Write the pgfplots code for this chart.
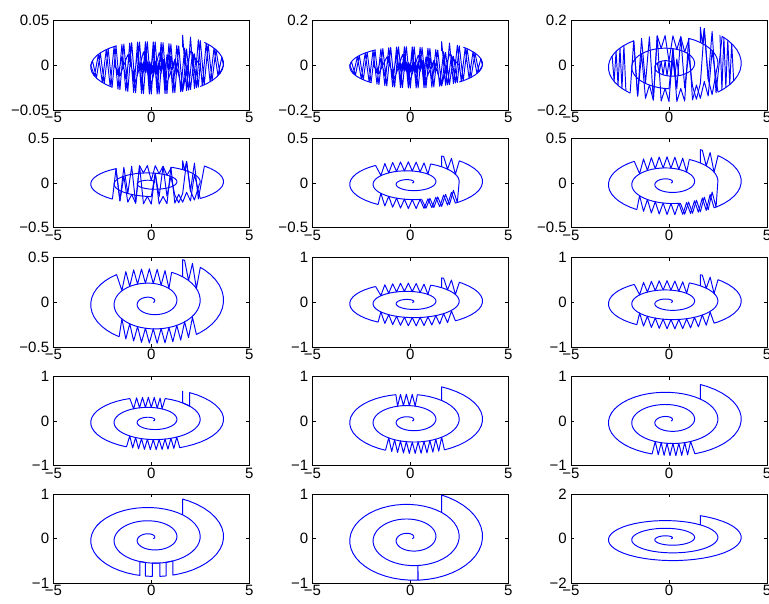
\documentclass[border=0pt]{standalone}
\usepackage{fontspec}
\setmainfont{Liberation Sans}
\usepackage{pgfplots}
\usepackage{pgfplotstable}
\pgfplotsset{compat=1.18}
\pgfplotsset{
 sub/.style={scale only axis, width=196pt, height=89.3pt, anchor=north west,
  xmin=-5, xmax=5, xtick={-5,0,5}, xticklabels={−5,0,5},
  tick align=inside, major tick length=3.3pt,
  every tick/.style={black, line width=0.8pt},
  axis line style={line width=0.8pt, black},
  tick label style={font=\fontsize{15}{17}\selectfont},
  xticklabel style={inner sep=2pt}, yticklabel style={inner sep=4pt},
  scaled y ticks=false, clip=true},
 ln/.style={blue, line width=0.95pt, mark=none, line join=round},
 idx/.style 2 args={x filter/.append code={\ifnum\coordindex<#1\relax\def\pgfmathresult{}\fi\ifnum\coordindex>#2\relax\def\pgfmathresult{}\fi}},
 ya/.style={ymin=-0.05,ymax=0.05,ytick={-0.05,0,0.05},yticklabels={−0.05,0,0.05}},
 yb/.style={ymin=-0.2,ymax=0.2,ytick={-0.2,0,0.2},yticklabels={−0.2,0,0.2}},
 yc/.style={ymin=-0.5,ymax=0.5,ytick={-0.5,0,0.5},yticklabels={−0.5,0,0.5}},
 yd/.style={ymin=-1,ymax=1,ytick={-1,0,1},yticklabels={−1,0,1}},
 ye/.style={ymin=-2,ymax=2,ytick={-2,0,2},yticklabels={−2,0,2}},
}
\newcommand\B[2]{\addplot[ln, idx={#1}{#2}] table[x=x, y expr=\thisrow{y}*\cc] {\base};}
\newcommand\Z[1]{\addplot[ln] table[x=x, y expr=\thisrow{y}*\cc] {#1};}

\pgfplotstableread[row sep=\\]{x y\\
0.100 0\\ 0.124 0.016\\ 0.145 0.039\\ 0.162 0.067\\ 0.172 0.100\\ 0.178 0.136\\ 0.176 0.176\\ 0.167 0.217\\ 0.150 0.259\\ 0.124 0.299\\
0.090 0.337\\ 0.049 0.371\\ 0 0.398\\ -0.055 0.419\\ -0.116 0.433\\ -0.181 0.437\\ -0.249 0.431\\ -0.318 0.415\\ -0.387 0.387\\ -0.455 0.349\\
-0.517 0.299\\ -0.575 0.238\\ -0.625 0.167\\ -0.666 0.088\\ -0.697 0\\ -0.716 -0.094\\ -0.722 -0.193\\ -0.713 -0.295\\ -0.689 -0.398\\ -0.651 -0.500\\
-0.598 -0.598\\ -0.530 -0.691\\ -0.448 -0.776\\ -0.352 -0.851\\ -0.245 -0.914\\ -0.127 -0.962\\ 0 -0.995\\ 0.133 -1.011\\ 0.270 -1.009\\ 0.409 -0.989\\
0.548 -0.948\\ 0.682 -0.889\\ 0.810 -0.810\\ 0.927 -0.712\\ 1.034 -0.597\\ 1.126 -0.467\\ 1.202 -0.322\\ 1.258 -0.166\\ 1.294 0\\ 1.308 0.172\\
1.298 0.348\\ 1.264 0.524\\ 1.206 0.697\\ 1.125 0.863\\ 1.020 1.020\\ 0.894 1.165\\ 0.747 1.293\\ 0.581 1.402\\ 0.399 1.490\\ 0.204 1.554\\
0 1.592\\ -0.211 1.603\\ -0.425 1.586\\ -0.638 1.540\\ -0.846 1.465\\ -1.045 1.362\\ -1.231 1.231\\ -1.401 1.075\\ -1.551 0.896\\ -1.678 0.695\\
-1.778 0.476\\ -1.850 0.244\\ -1.891 0\\ -1.900 -0.250\\ -1.874 -0.502\\ -1.815 -0.752\\ -1.723 -0.995\\ -1.599 -1.227\\ -1.442 -1.442\\ -1.257 -1.638\\
-1.045 -1.810\\ -0.809 -1.954\\ -0.554 -2.066\\ -0.282 -2.145\\ 0 -2.189\\ 0.289 -2.195\\ 0.579 -2.163\\ 0.866 -2.092\\ 1.145 -1.982\\ 1.409 -1.836\\
1.653 -1.653\\ 1.875 -1.439\\ 2.068 -1.194\\ 2.229 -0.923\\ 2.355 -0.631\\ 2.442 -0.321\\ 2.488 0\\ 2.490 0.328\\ 2.451 0.657\\ 2.367 0.980\\
2.240 1.294\\ 2.072 1.590\\ 1.865 1.865\\ 1.621 2.112\\ 1.344 2.327\\ 1.037 2.505\\ 0.708 2.643\\ 0.360 2.737\\ 0 2.786\\ -0.367 2.787\\
-0.734 2.739\\ -1.095 2.643\\ -1.443 2.499\\ -1.772 2.309\\ -2.075 2.075\\ -2.348 1.802\\ -2.585 1.493\\ -2.781 1.152\\ -2.932 0.785\\ -3.034 0.399\\
-3.085 0\\ -3.082 -0.406\\ -3.027 -0.811\\ -2.919 -1.209\\ -2.757 -1.592\\ -2.546 -1.954\\ -2.287 -2.287\\ -1.984 -2.586\\ -1.642 -2.843\\ -1.266 -3.056\\
-0.863 -3.219\\ -0.438 -3.329\\ 0 -3.383\\ 0.445 -3.379\\ 0.888 -3.316\\ 1.323 -3.195\\ 1.741 -3.015\\ 2.135 -2.782\\ 2.497 -2.497\\ 2.822 -2.166\\
3.102 -1.791\\ 3.332 -1.380\\ 3.508 -0.940\\ 3.626 -0.477\\ 3.681 0\\ 3.674 0.484\\ 3.604 0.966\\ 3.470 1.437\\ 3.274 1.891\\ 3.020 2.317\\
2.709 2.709\\ 2.348 3.059\\ 1.940 3.360\\ 1.600 3.548\\ 1.600 2.128\\
}\base

\pgfplotstableread[row sep=\\]{x y\\
0.1 0\\ 0.0 -0.995\\ -0.1 0.43\\ -0.2 -0.932\\ -0.3 0.42\\ -0.4 -0.813\\ -0.5 0.31\\ -0.6 -0.594\\ -0.7 0\\ -0.6 0.20\\
-0.5 -0.71\\ -0.4 0.38\\ -0.3 -0.88\\ -0.2 0.432\\ -0.1 -0.97\\ 0.0 0.398\\ 0.1 -1.01\\ 0.2 0.5\\ 0.3 -1.005\\ 0.4 0.6\\
0.5 -0.96\\ 0.6 0.7\\ 0.7 -0.88\\ 0.8 1.247\\ 0.9 -0.74\\ 1.0 1.043\\ 1.1 -0.51\\ 1.2 0.709\\ 1.29 0\\
1.1 -2.0\\ 0.9 1.19\\ 0.7 -2.13\\ 0.5 1.44\\ 0.3 -2.19\\ 0.1 1.575\\ -0.1 -2.175\\ -0.3 1.60\\ -0.5 -2.08\\ -0.7 1.52\\
-0.9 -1.90\\ -1.1 1.32\\ -1.3 -1.59\\ -1.5 0.99\\ -1.7 -1.11\\ -1.85 0.25\\ -1.89 0\\
-1.6 -1.2\\ -1.2 1.25\\ -0.8 -1.96\\ -0.4 1.59\\ 0.0 -2.19\\ 0.4 1.49\\ 0.8 -2.11\\ 1.2 0.71\\ 1.6 -3.08\\ 2.0 1.69\\ 2.488 0\\
2.4 -2.57\\ 2.2 1.365\\ 2.0 -2.86\\ 1.8 1.932\\ 1.6 -3.08\\ 1.4 2.284\\ 1.2 -3.23\\ 1.0 2.52\\ 0.8 -3.33\\ 0.6 2.672\\
0.4 -3.38\\ 0.2 2.759\\ 0.0 -3.383\\ -0.2 2.787\\ -0.4 -3.33\\ -0.6 2.757\\ -0.8 -3.24\\ -1.0 2.668\\ -1.2 -3.08\\ -1.4 2.516\\
-1.6 -2.87\\ -1.8 2.288\\ -2.0 -2.57\\ -2.2 1.949\\ -2.4 -2.14\\ -2.6 1.466\\ -2.8 -1.49\\ -3.0 0.526\\ -3.085 0\\
-2.9 -1.255\\ -2.7 1.292\\ -2.5 -2.01\\ -2.3 1.851\\ -2.1 -2.47\\ -1.9 2.21\\ -1.7 -2.80\\ -1.5 2.46\\ -1.3 -3.03\\ -1.1 2.63\\
-0.9 -3.20\\ -0.7 2.74\\ -0.5 -3.31\\ -0.3 2.785\\ -0.1 -3.37\\ 0.1 2.77\\ 0.3 -3.38\\ 0.5 2.70\\ 0.7 -3.35\\ 0.9 2.56\\
1.1 -3.26\\ 1.3 2.35\\ 1.5 -3.12\\ 1.7 2.03\\ 1.9 -2.92\\ 2.1 1.53\\ 2.3 -2.65\\ 2.5 2.91\\ 2.7 -2.29\\ 2.9 2.47\\
3.1 -1.79\\ 3.3 1.83\\ 3.5 -0.96\\ 3.681 0\\
3.6 0.98\\ 3.4 -1.21\\ 3.2 2.015\\ 3.0 -1.93\\ 2.8 2.595\\ 2.6 -2.39\\ 2.4 3.009\\ 2.2 -2.73\\ 2.0 3.315\\ 1.8 -2.98\\
1.6 3.548\\ 1.6 2.128\\
}\ZI

\pgfplotstableread[row sep=\\]{x y\\
1.037 2.505\\ 0.9 1.16\\ 0.7 2.645\\ 0.5 1.44\\ 0.3 2.745\\ 0.1 1.575\\ -0.1 2.787\\ -0.3 1.596\\ -0.5 2.77\\ -0.7 1.52\\
-0.9 2.70\\ -1.1 1.33\\ -1.3 2.56\\ -1.5 0.99\\ -1.772 2.309\\
}\ZTc
\pgfplotstableread[row sep=\\]{x y\\
-1.642 -2.843\\ -1.5 -1.36\\ -1.3 -3.03\\ -1.1 -1.76\\ -0.9 -3.20\\ -0.7 -2.00\\ -0.5 -3.31\\ -0.3 -2.135\\ -0.1 -3.37\\ 0.1 -2.19\\
0.3 -3.38\\ 0.5 -2.17\\ 0.7 -3.35\\ 0.9 -2.09\\ 1.1 -3.26\\ 1.3 -1.90\\ 1.5 -3.12\\ 1.7 -1.60\\ 1.9 -2.92\\ 2.1 -1.23\\
2.3 -2.65\\ 2.497 -2.497\\
}\ZBc
\pgfplotstableread[row sep=\\]{x y\\
2.709 2.709\\ 2.5 2.91\\ 2.3 1.15\\ 2.1 3.24\\ 1.9 1.82\\ 1.7 3.49\\ 1.6 3.548\\ 1.6 2.128\\
}\ZEc
\pgfplotstableread[row sep=\\]{x y\\
0.579 -2.163\\ 0.8 -3.33\\ 1.0 -2.039\\ 1.2 -3.23\\ 1.4 -1.84\\ 1.6 -3.08\\ 1.8 -1.51\\ 2.0 -2.86\\ 2.2 -0.972\\ 2.4 -2.57\\ 2.488 0\\
}\ZBm
\pgfplotstableread[row sep=\\]{x y\\
0 -2.189\\ 0.2 1.555\\ 0.4 -2.183\\ 0.6 2.672\\ 0.8 -2.108\\ 1.0 1.043\\ 1.2 -1.952\\ 1.4 -3.16\\ 1.6 -1.693\\ 1.8 3.437\\
2.0 -1.28\\ 2.2 -2.73\\ 2.442 -0.321\\ 2.488 0\\
}\ZMb
\pgfplotstableread[row sep=\\]{x y\\
1.037 2.505\\ 0.8 1.247\\ 0.6 2.672\\ 0.4 1.49\\ 0.2 2.759\\ 0 0.398\\ -0.2 2.787\\ -0.4 1.588\\ -0.6 2.757\\ -0.8 -3.24\\
-1.0 2.668\\ -1.2 -1.684\\ -1.4 2.516\\ -1.6 -2.87\\ -1.8 2.288\\ -2.075 2.075\\
}\ZTb
\pgfplotstableread[row sep=\\]{x y\\
-1.984 -2.586\\ -1.8 2.288\\ -1.6 -2.87\\ -1.4 1.076\\ -1.2 -3.08\\ -1.0 -1.837\\ -0.8 -3.24\\ -0.6 2.757\\ -0.4 -3.33\\ -0.2 -2.158\\
0 -3.383\\ 0.2 1.555\\ 0.4 -3.38\\ 0.6 -2.158\\ 0.8 -3.33\\ 1.0 2.52\\ 1.2 -3.23\\ 1.4 -1.84\\ 1.6 -3.08\\ 1.8 -1.51\\
2.0 -2.86\\ 2.2 1.365\\ 2.497 -2.497\\
}\ZBb
\pgfplotstableread[row sep=\\]{x y\\
3.020 2.317\\ 2.709 2.709\\ 2.4 -2.57\\ 2.2 3.168\\ 2.0 -1.28\\ 1.8 3.437\\ 1.7 2.03\\ 1.6 3.548\\ 1.6 2.128\\
}\ZEb
\pgfplotstableread[row sep=\\]{x y\\
-2.9 0.862\\ -2.8 -1.49\\ -2.7 1.292\\ -2.6 -1.86\\ -2.5 1.604\\ -2.4 -2.14\\ -2.3 1.851\\ -2.2 -2.37\\
}\ZL
\pgfplotstableread[row sep=\\]{x y\\
2.6 2.815\\ 2.7 -2.29\\ 2.8 2.595\\ 2.9 -2.06\\ 3.0 2.342\\ 3.1 -1.79\\ 3.2 2.015\\ 3.3 -1.44\\
}\ZR
\pgfplotstableread[row sep=\\]{x y\\
-0.6 0.20\\ -0.5 -0.71\\ -0.4 0.38\\ -0.3 -0.88\\ -0.2 0.432\\ -0.1 -0.97\\ 0 0.398\\ 0.1 -1.01\\ 0.2 0.5\\ 0.3 -1.005\\ 0.4 0.6\\ 0.5 -0.96\\
}\Ablob
\pgfplotstableread[row sep=\\]{x y\\
0.708 2.643\\ 0.55 1.42\\ 0.45 2.70\\ 0.3 1.52\\ 0.15 2.77\\ 0.0 1.592\\ -0.15 2.787\\ -0.3 1.596\\ -0.45 2.775\\ -0.6 1.548\\
-0.75 2.735\\ -0.9 1.43\\ -1.095 2.643\\
}\ZTj
\pgfplotstableread[row sep=\\]{x y\\
-1.266 -3.056\\ -1.1 -1.76\\ -0.95 -3.19\\ -0.8 -1.958\\ -0.65 -3.28\\ -0.5 -2.08\\ -0.35 -3.34\\ -0.2 -2.158\\ -0.05 -3.38\\ 0.1 -2.19\\
0.25 -3.38\\ 0.4 -2.183\\ 0.55 -3.365\\ 0.7 -2.13\\ 0.85 -3.32\\ 1.0 -2.039\\ 1.15 -3.25\\ 1.3 -1.90\\ 1.45 -3.15\\ 1.741 -3.015\\
}\ZBj
\pgfplotstableread[row sep=\\]{x y\\
2.709 2.709\\ 2.348 3.059\\ 1.96 3.34\\ 1.96 1.74\\ 1.6 2.128\\ 1.6 3.548\\
}\ZEj
\pgfplotstableread[row sep=\\]{x y\\
0.36 2.737\\ 0.25 1.53\\ 0.1 2.77\\ -0.05 1.595\\ -0.2 2.787\\ -0.35 1.598\\ -0.5 2.77\\ -0.65 1.53\\ -0.734 2.739\\
}\ZTk
\pgfplotstableread[row sep=\\]{x y\\
-1.266 -3.056\\ -1.1 -1.76\\ -0.95 -3.19\\ -0.8 -1.958\\ -0.65 -3.28\\ -0.5 -2.08\\ -0.35 -3.34\\ -0.2 -2.158\\ -0.05 -3.38\\ 0.1 -2.19\\
0.25 -3.38\\ 0.4 -2.183\\ 0.55 -3.365\\ 0.7 -2.13\\ 0.85 -3.32\\ 1.0 -2.039\\ 1.15 -3.25\\ 1.3 -1.90\\ 1.45 -3.15\\ 1.6 -1.693\\ 1.741 -3.015\\
}\ZBk
\pgfplotstableread[row sep=\\]{x y\\
-0.863 -3.219\\ -0.7 -2.0\\ -0.55 -3.29\\ -0.4 -2.11\\ -0.25 -3.35\\ -0.1 -2.175\\ 0.05 -3.38\\ 0.2 -2.19\\ 0.35 -3.38\\ 0.5 -2.17\\
0.65 -3.36\\ 0.8 -2.108\\ 0.95 -3.3\\ 1.1 -2.0\\ 1.323 -3.195\\
}\ZBl
\pgfplotstableread[row sep=\\]{x y\\
-0.863 -3.219\\ -0.58 -3.29\\ -0.58 -2.05\\ -0.30 -2.13\\ -0.30 -3.35\\ 0.05 -3.383\\ 0.05 -2.19\\ 0.44 -2.18\\ 0.44 -3.38\\ 0.76 -3.34\\
0.76 -2.12\\ 1.10 -2.0\\ 1.10 -3.26\\ 1.323 -3.195\\
}\ZBg
\pgfplotstableread[row sep=\\]{x y\\
0 -3.383\\ 0.38 -3.38\\ 0.39 -2.18\\ 0.40 -3.38\\ 0.445 -3.379\\
}\Zsp

\begin{document}
\begin{tikzpicture}
\useasboundingbox (0,0) rectangle (769pt,-604pt);
% row 1
\def\cc{0.0095}
\begin{axis}[sub, ya, at={(53.3pt,-20.7pt)}]
\Z{\ZI} \B{113}{127} \B{138}{150}
\end{axis}
\def\cc{0.03}
\begin{axis}[sub, yb, at={(312.3pt,-20.7pt)}]
\Z{\ZI} \B{113}{127} \B{138}{150}
\end{axis}
\def\cc{0.048}
\begin{axis}[sub, yb, at={(571pt,-20.7pt)}]
\B{0}{84} \Z{\ZMb} \B{96}{105} \Z{\ZTb} \B{114}{127} \Z{\ZBb} \B{138}{149} \Z{\ZEb}
\Z{\ZL} \Z{\ZR} \Z{\Ablob}
\end{axis}
% row 2
\def\cc{0.07}
\begin{axis}[sub, yc, at={(53.3pt,-138.3pt)}]
\B{0}{84} \Z{\ZMb} \B{96}{105} \Z{\ZTb} \B{114}{127} \Z{\ZBb} \B{138}{149} \Z{\ZEb}
\end{axis}
\def\cc{0.085}
\begin{axis}[sub, yc, at={(312.3pt,-138.3pt)}]
\B{0}{86} \Z{\ZBm} \B{96}{105} \Z{\ZTc} \B{113}{128} \Z{\ZBc} \B{138}{150} \Z{\ZEc}
\end{axis}
\def\cc{0.105}
\begin{axis}[sub, yc, at={(571pt,-138.3pt)}]
\B{0}{86} \Z{\ZBm} \B{96}{105} \Z{\ZTc} \B{113}{128} \Z{\ZBc} \B{138}{150} \Z{\ZEc}
\end{axis}
% row 3
\def\cc{0.135}
\begin{axis}[sub, yc, at={(53.3pt,-257.8pt)}]
\B{0}{105} \Z{\ZTc} \B{113}{128} \Z{\ZBc} \B{138}{150} \Z{\ZEc}
\end{axis}
\def\cc{0.155}
\begin{axis}[sub, yd, at={(312.3pt,-257.8pt)}]
\B{0}{105} \Z{\ZTc} \B{113}{128} \Z{\ZBc} \B{138}{150} \Z{\ZEc}
\end{axis}
\def\cc{0.175}
\begin{axis}[sub, yd, at={(571pt,-257.8pt)}]
\B{0}{105} \Z{\ZTc} \B{113}{128} \Z{\ZBc} \B{138}{150} \Z{\ZEc}
\end{axis}
% row 4
\def\cc{0.19}
\begin{axis}[sub, yd, at={(53.3pt,-376.3pt)}]
\B{0}{106} \Z{\ZTj} \B{111}{129} \Z{\ZBj} \B{136}{150} \Z{\ZEj}
\end{axis}
\def\cc{0.215}
\begin{axis}[sub, yd, at={(312.3pt,-376.3pt)}]
\B{0}{107} \Z{\ZTk} \B{110}{129} \Z{\ZBk} \B{136}{154}
\end{axis}
\def\cc{0.23}
\begin{axis}[sub, yd, at={(571pt,-376.3pt)}]
\B{0}{130} \Z{\ZBl} \B{135}{154}
\end{axis}
% row 5
\def\cc{0.25}
\begin{axis}[sub, yd, at={(53.3pt,-494pt)}]
\B{0}{130} \Z{\ZBg} \B{135}{154}
\end{axis}
\def\cc{0.275}
\begin{axis}[sub, yd, at={(312.3pt,-494pt)}]
\B{0}{132} \Z{\Zsp} \B{133}{154}
\end{axis}
\def\cc{0.29}
\begin{axis}[sub, ye, at={(571pt,-494pt)}]
\B{0}{154}
\end{axis}
\end{tikzpicture}
\end{document}
